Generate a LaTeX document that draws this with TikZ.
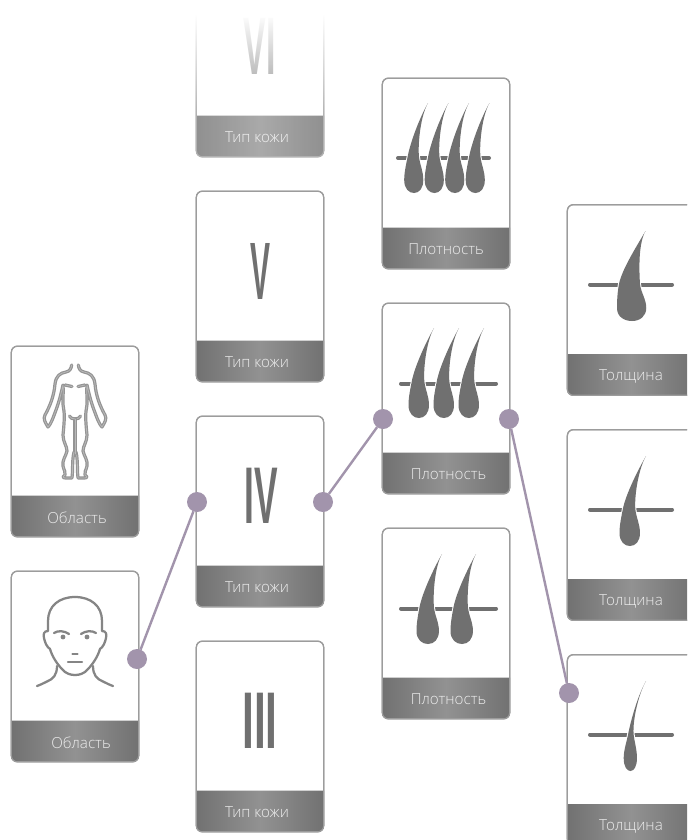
\documentclass[tikz,border=0pt]{standalone}
\usepackage{fontspec}
\usepackage{graphicx}
\setmainfont{Open Sans}[UprightFont=* Light]
\newfontfamily\numfont{Liberation Sans}
\usetikzlibrary{fadings}
\definecolor{dotc}{HTML}{A294AC}
\definecolor{edgec}{HTML}{9C9C9C}
\definecolor{stripd}{HTML}{717171}
\definecolor{stripl}{HTML}{929292}
\definecolor{icon}{HTML}{707070}
\definecolor{labelc}{HTML}{EDEDED}
\tikzfading[name=vifade, top color=transparent!0, bottom color=transparent!78]
\tikzset{
  x=0.75pt,y=-0.75pt,
  cardbox/.style={draw=edgec,line width=.9pt,fill=white,rounded corners=4.5pt,minimum width=95.5pt,minimum height=143pt,inner sep=0pt,outer sep=0pt},
  cardedge/.style={draw=edgec,line width=.9pt,rounded corners=4.5pt,minimum width=95.5pt,minimum height=143pt,inner sep=0pt,outer sep=0pt},
  cardlabel/.style={text=labelc,font=\fontsize{11.4}{13}\selectfont,inner sep=0pt},
  dotnode/.style={circle,fill=dotc,minimum size=15pt,inner sep=0pt,outer sep=0pt},
  link/.style={draw=dotc,line width=1.8pt},
  numeral/.style={text=icon,inner sep=0pt},
  skin/.style={draw=icon,line width=3pt,line cap=round},
  lineart/.style={draw=icon!85!white,line width=1.7pt,line cap=round,line join=round},
  bodyline/.style={draw=icon!75!white,line width=2.4pt,line cap=round,line join=round},
  bodyinner/.style={draw=white!72!black,line width=.6pt,line cap=round,line join=round},
}
% name, x left, y top, label, label x
\newcommand{\cardshape}[5]{%
  \node[cardbox] (#1) at ({#2+64},{#3+96}) {};
  \shade[left color=stripd,right color=stripd,middle color=stripl]
    (#2,{#3+150}) -- ({#2+128},{#3+150}) [rounded corners=4.5pt] -- ({#2+128},{#3+191.5}) -- (#2,{#3+191.5}) [sharp corners] -- cycle;
  \node[cardedge] at ({#2+64},{#3+96}) {};
  \node[cardlabel] (#1-label) at (#5,{#3+172}) {#4};
}
% half width, tip dx
\newcommand{\hairpath}[2]{%
  (#2,-90)
    .. controls ({#2-8},-76) and ({\hl+3},-52) .. (\hl,-37)
    .. controls ({\hl-1.5},-29) and (-#1,-21) .. (-#1,-13)
    .. controls (-#1,-4) and ({-#1*.5},0) .. (0,0)
    .. controls ({#1*.55},0) and ({#1*.95},-5) .. ({#1*.95},-13)
    .. controls ({#1*.95},-22) and ({\hr+1},-28) .. (\hr,-37)
    .. controls ({\hr-1},-52) and ({#2-7},-78) .. (#2,-90) -- cycle
}
% bulb centre x, bulb bottom y, half width, tip dx
\newcommand{\hair}[4]{%
  \begin{scope}[shift={(#1,#2)}]
  \pgfmathsetmacro{\hl}{-(#3*1.3-6.5)}
  \pgfmathsetmacro{\hr}{#3*0.6-1}
  \draw[white,line width=1.5pt,line join=round] \hairpath{#3}{#4};
  \fill[icon] \hairpath{#3}{#4};
  \end{scope}
}
\begin{document}
\begin{tikzpicture}
\useasboundingbox (0,0) rectangle (687,840);
\clip (0,0) rectangle (687,840);
\fill[white] (0,0) rectangle (687,840);

\cardshape{bodycard}{11}{345.5}{Область}{77}
\cardshape{headcard}{11}{570.5}{Область}{81}
\cardshape{six}{196}{-34.5}{Тип кожи}{257}
\cardshape{five}{196}{190.5}{Тип кожи}{257}
\cardshape{four}{196}{415.5}{Тип кожи}{257}
\cardshape{three}{196}{640.5}{Тип кожи}{257}
\cardshape{dense}{382}{77.5}{Плотность}{446}
\cardshape{mid}{382}{302.5}{Плотность}{448.5}
\cardshape{low}{382}{527.5}{Плотность}{448.5}
\cardshape{thick}{567}{204}{Толщина}{631}
\cardshape{medium}{567}{429}{Толщина}{631}
\cardshape{thin}{567}{654}{Толщина}{631}

% numerals
\node[numeral] (nVI) at (260,46) {\resizebox{24pt}{42pt}{\numfont\bfseries VI}};
\node[numeral] (nV) at (260,271) {\resizebox{15pt}{42pt}{\numfont\bfseries V}};
\node[numeral] (nIV) at (261,495.5) {\resizebox{25pt}{41.5pt}{\numfont\bfseries IV}};
\node[numeral] (nIII) at (260,721) {\resizebox{26.5pt}{41.5pt}{\numfont\bfseries III}};

% fade of the top card
\fill[white,path fading=vifade] (190,14) rectangle (330,115);
\fill[white] (190,0) rectangle (330,14.5);
\fill[white,opacity=.22] (190,115) rectangle (330,160);

% hair icons
\draw[skin] (398,158) -- (489,158);
\hair{414}{193}{9.8}{14}\hair{434.5}{193}{9.8}{14}\hair{455}{193}{9.8}{14}\hair{475.5}{193}{9.8}{14}
\draw[skin] (401,383.5) -- (496,383.5);
\hair{419}{418}{10.5}{15}\hair{444}{418}{10.5}{15}\hair{469}{418}{10.5}{15}
\draw[skin] (401,608.5) -- (496,608.5);
\hair{428}{644}{11.5}{14}\hair{462}{644}{11.5}{14}
\draw[skin] (590,284.5) -- (672,284.5);
\hair{632}{321}{15}{13.5}
\draw[skin] (590,509.5) -- (672,509.5);
\hair{630}{546}{10.5}{16}
\draw[skin] (590,734.5) -- (672,734.5);
\hair{630.5}{771}{6.8}{15.5}

% body icon
\begin{scope}[shift={(75,0)}]
\foreach \s in {1,-1}{
 \begin{scope}[xscale=\s]
 \foreach \st in {bodyline,bodyinner}{
 \draw[\st] (3.3,365) .. controls (4,369) and (5,371) .. (9,372)
   .. controls (15,373) and (19,376) .. (20,384)
   .. controls (21,396) and (25,406) .. (30,415)
   .. controls (32,419) and (30,422) .. (27,427)
   .. controls (24,424) and (22,418) .. (19,410)
   .. controls (16,402) and (14,394) .. (12,385)
   .. controls (11,392) and (13,400) .. (11.5,408)
   .. controls (10,415) and (11,425) .. (12,435)
   .. controls (12,442) and (8,446) .. (8,451)
   .. controls (9,456) and (13,460) .. (12,466)
   .. controls (11,471) and (9,472) .. (10,475)
   .. controls (13,477) and (12,478) .. (9,478)
   -- (3,478) .. controls (2,470) and (3,460) .. (1,452);
 \draw[\st] (0,419) .. controls (3,419) and (4.5,418) .. (5.5,416);
 \draw[\st] (10,385) -- (3,386.5);
 \draw[\st] (0,419) -- (0,454);
 }
 \end{scope}
}
\end{scope}

% head icon
\begin{scope}[shift={(75,0)}]
\foreach \s in {1,-1}{
 \begin{scope}[xscale=\s]
 \draw[lineart] (0,597) .. controls (16,597) and (27,606) .. (27,621)
   .. controls (27,625) and (27,628) .. (27,631)
   .. controls (31,631) and (32,634) .. (31,638)
   .. controls (30,643) and (28,647) .. (25,649)
   .. controls (23,656) and (18,664) .. (13,669)
   .. controls (9,674) and (4,675) .. (0,675);
 \draw[lineart] (18,666) .. controls (18,675) and (22,679) .. (27,681)
   .. controls (31,683) and (35,685) .. (38,686);
 \draw[lineart] (6,634) .. controls (10,631) and (17,630) .. (21,633);
 \fill[icon!85!white] (12,637) circle (2.4);
 \draw[lineart] (0,662) -- (7,662);
 \draw[lineart] (0,654) -- (2.5,654);
 \end{scope}
}
\end{scope}

% connectors
\node[dotnode] (d1) at (137,659) {};
\node[dotnode] (d2) at (197,502) {};
\node[dotnode] (d3) at (323,502) {};
\node[dotnode] (d4) at (383,419) {};
\node[dotnode] (d5) at (509,419) {};
\node[dotnode] (d6) at (569,693) {};
\draw[link] (d1) -- (d2);
\draw[link] (d3) -- (d4);
\draw[link] (d5) -- (d6);
\end{tikzpicture}
\end{document}
